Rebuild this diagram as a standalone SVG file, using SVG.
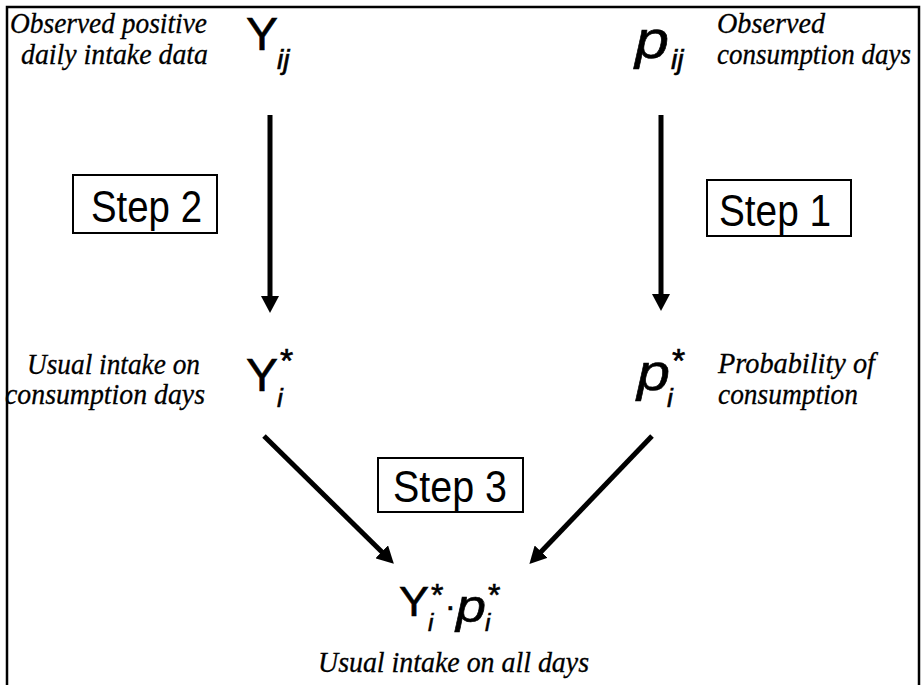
<svg xmlns="http://www.w3.org/2000/svg" width="922" height="685" viewBox="0 0 922 685">
<defs>
<style>
.lbl{font-family:"Liberation Serif","Times New Roman",serif;font-style:italic;font-size:30px;fill:#000;stroke:#000;stroke-width:0.3}
.m{font-family:"Liberation Sans",Arial,sans-serif;fill:#000;stroke:#000;stroke-width:0.6}
.it{font-style:italic}
.step{font-family:"Liberation Sans",Arial,sans-serif;font-size:44px;fill:#000}
.box{fill:#fff;stroke:#000;stroke-width:2}
.arr{stroke:#000;stroke-width:5;fill:none;marker-end:url(#ah)}
</style>
<marker id="ah" markerUnits="userSpaceOnUse" viewBox="0 0 17 18" refX="6" refY="9" markerWidth="17" markerHeight="18" orient="auto">
<path d="M0,0 L17,9 L0,18 Z" fill="#000"/>
</marker>
</defs>
<rect width="922" height="685" fill="#fff"/>

<g id="connectors">
<line class="arr" x1="270" y1="115" x2="270" y2="302"/>
<line class="arr" x1="661" y1="115" x2="661" y2="300"/>
<line class="arr" x1="264" y1="436" x2="386" y2="556"/>
<line class="arr" x1="652" y1="436" x2="537" y2="556"/>
</g>

<g id="node-yij">
<text class="lbl" x="10" y="33" textLength="197" lengthAdjust="spacingAndGlyphs">Observed positive</text>
<text class="lbl" x="21" y="64" textLength="187" lengthAdjust="spacingAndGlyphs">daily intake data</text>
<text class="m" x="246" y="50" font-size="46" textLength="32" lengthAdjust="spacingAndGlyphs">Y</text>
<text class="m it" x="277" y="69" font-size="28">ij</text>
</g>

<g id="node-pij">
<text class="m it" x="635" y="58" font-size="54" textLength="34" lengthAdjust="spacingAndGlyphs">p</text>
<text class="m it" x="671" y="69" font-size="28">ij</text>
<text class="lbl" x="717" y="33" textLength="108" lengthAdjust="spacingAndGlyphs">Observed</text>
<text class="lbl" x="717" y="64" textLength="194" lengthAdjust="spacingAndGlyphs">consumption days</text>
</g>

<g id="node-yi">
<text class="lbl" x="27" y="374" textLength="173" lengthAdjust="spacingAndGlyphs">Usual intake on</text>
<text class="lbl" x="5" y="404" textLength="200" lengthAdjust="spacingAndGlyphs">consumption days</text>
<text class="m" x="246" y="391" font-size="46" textLength="32" lengthAdjust="spacingAndGlyphs">Y</text>
<text class="m" x="280" y="372" font-size="34">*</text>
<text class="m it" x="277" y="407" font-size="26">i</text>
</g>

<g id="node-pi">
<text class="m it" x="637" y="390" font-size="52" textLength="33" lengthAdjust="spacingAndGlyphs">p</text>
<text class="m" x="672" y="372" font-size="34">*</text>
<text class="m it" x="667" y="407" font-size="26">i</text>
<text class="lbl" x="718" y="373" textLength="157" lengthAdjust="spacingAndGlyphs">Probability of</text>
<text class="lbl" x="718" y="404" textLength="140" lengthAdjust="spacingAndGlyphs">consumption</text>
</g>

<g id="node-product">
<text class="m" x="399" y="616" font-size="43" textLength="30" lengthAdjust="spacingAndGlyphs">Y</text>
<text class="m" x="431" y="606" font-size="32">*</text>
<text class="m it" x="428" y="631" font-size="24">i</text>
<text class="m" x="445" y="617" font-size="32">·</text>
<text class="m it" x="456" y="622" font-size="46" textLength="30" lengthAdjust="spacingAndGlyphs">p</text>
<text class="m" x="488" y="606" font-size="32">*</text>
<text class="m it" x="485" y="631" font-size="24">i</text>
<text class="lbl" x="318" y="672" textLength="271" lengthAdjust="spacingAndGlyphs">Usual intake on all days</text>
</g>

<g id="step2">
<rect class="box" x="73" y="175" width="144" height="58"/>
<text class="step" x="91" y="222" textLength="111" lengthAdjust="spacingAndGlyphs">Step 2</text>
</g>
<g id="step1">
<rect class="box" x="707" y="180" width="144" height="56"/>
<text class="step" x="719" y="226" textLength="112" lengthAdjust="spacingAndGlyphs">Step 1</text>
</g>
<g id="step3">
<rect class="box" x="378" y="458" width="145" height="54"/>
<text class="step" x="393" y="502" textLength="114" lengthAdjust="spacingAndGlyphs">Step 3</text>
</g>

<rect x="7" y="7" width="912" height="700" fill="none" stroke="#000" stroke-width="2.5"/>
</svg>
